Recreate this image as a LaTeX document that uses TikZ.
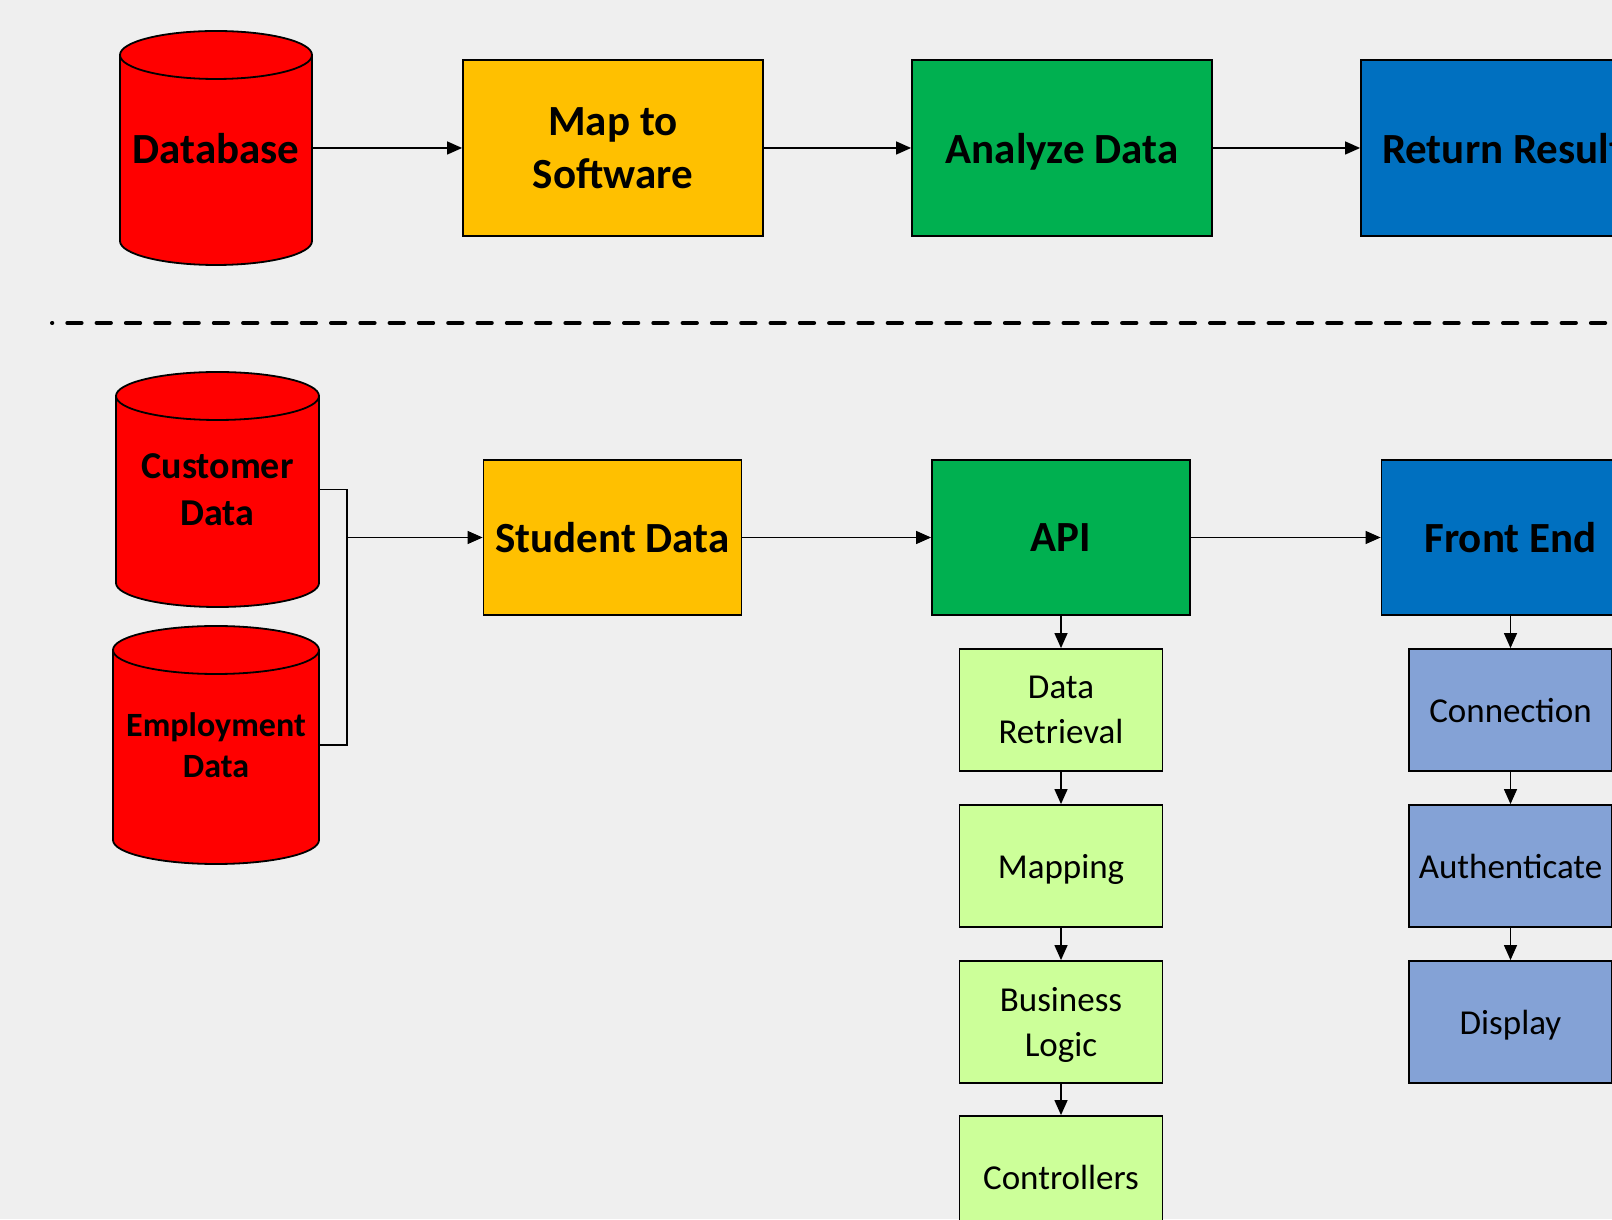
\documentclass[tikz,border=0pt]{standalone}
\usepackage{fontspec}
\setmainfont{Carlito}
\usepackage{tikz}
\usetikzlibrary{arrows.meta,backgrounds}
\definecolor{bg}{HTML}{EFEFEF}
\definecolor{dbred}{HTML}{FF0000}
\definecolor{gold}{HTML}{FFC000}
\definecolor{green}{HTML}{00B050}
\definecolor{blue}{HTML}{0070C0}
\definecolor{lgreen}{HTML}{CCFF99}
\definecolor{lblue}{HTML}{84A2D6}
\tikzset{
  boxbase/.style={rectangle, draw=black, line width=1.8pt, inner sep=0pt, align=center, text=black, text depth=0pt},
  procbox/.style={boxbase, minimum width=300pt, minimum height=176pt, font=\bfseries\fontsize{43}{53}\selectfont},
  stagebox/.style={boxbase, minimum width=258pt, minimum height=155pt, font=\bfseries\fontsize{43}{53}\selectfont},
  stepbox/.style={boxbase, minimum width=203pt, minimum height=122pt, font=\fontsize{35}{45}\selectfont},
  dbcyl/.style={rectangle, inner sep=0pt, outer sep=0pt, align=center, text=black, text depth=0pt, font=\bfseries\fontsize{43}{53}\selectfont},
  cylbody/.style={fill=dbred, draw=black, line width=1.8pt},
  link/.style={line width=1.3pt, draw=black},
  arr/.style={link, -{Triangle[length=15pt, width=13pt]}},
  divider/.style={line width=4pt, line cap=round, dash pattern=on 14.3pt off 15pt, dash phase=14pt}
}

\begin{document}
\begin{tikzpicture}[x=1pt, y=1pt]
  \useasboundingbox (0,0) rectangle (1612,1219);
  \clip (0,0) rectangle (1612,1219);
  \begin{pgfonlayer}{background}
    \fill[bg] (0,0) rectangle (1612,1219);
  \end{pgfonlayer}

  % Top row
  \node[dbcyl, minimum width=192pt, minimum height=234pt] (db) at (216,1071) {Database};
  \node[procbox, fill=gold] (map) at (613,1071) {Map to\\Software};
  \node[procbox, fill=green] (ana) at (1062,1071) {Analyze Data};
  \node[procbox, fill=blue, minimum width=284pt] (ret) at (1503,1071) {Return Result};
  \draw[arr] (db) -- (map);
  \draw[arr] (map) -- (ana);
  \draw[arr] (ana) -- (ret);

  \draw[divider] (52,896) -- (1640,896);

  % Bottom row
  \node[dbcyl, minimum width=203pt, minimum height=235pt, font=\bfseries\fontsize{38}{47}\selectfont] (cust) at (217.5,729.5) {Customer\\Data};
  \node[dbcyl, minimum width=206pt, minimum height=238pt, font=\bfseries\fontsize{34}{41}\selectfont] (emp) at (216,474) {Employment\\Data};
  \coordinate (join) at (347,681.5);
  \node[stagebox, fill=gold] (stud) at (612.5,681.5) {Student Data};
  \node[stagebox, fill=green] (api) at (1061,681.5) {API};
  \node[stagebox, fill=blue] (front) at (1510.5,681.5) {Front End};
  \draw[link] (cust.east) -| (join);
  \draw[link] (emp.east) -| (join);
  \draw[arr] (join) -- (stud);
  \draw[arr] (stud) -- (api);
  \draw[arr] (api) -- (front);

  % API steps
  \node[stepbox, fill=lgreen] (dr) at (1061,509) {Data\\Retrieval};
  \node[stepbox, fill=lgreen] (mapg) at (1061,353) {Mapping};
  \node[stepbox, fill=lgreen] (logic) at (1061,197) {Business\\Logic};
  \node[stepbox, fill=lgreen] (ctrl) at (1061,42) {Controllers};
  \draw[arr] (api) -- (dr);
  \draw[arr] (dr) -- (mapg);
  \draw[arr] (mapg) -- (logic);
  \draw[arr] (logic) -- (ctrl);

  % Front end steps
  \node[stepbox, fill=lblue] (conn) at (1510.5,509) {Connection};
  \node[stepbox, fill=lblue] (auth) at (1510.5,353) {Authenticate};
  \node[stepbox, fill=lblue] (disp) at (1510.5,197) {Display};
  \draw[arr] (front) -- (conn);
  \draw[arr] (conn) -- (auth);
  \draw[arr] (auth) -- (disp);

  % Cylinders behind the labels
  \begin{pgfonlayer}{background}
    \foreach \c/\rx in {db/96, cust/101.5, emp/103} {
      \draw[cylbody] ([yshift=-24pt]\c.north west) -- ([yshift=24pt]\c.south west)
        arc[start angle=180, end angle=360, x radius=\rx, y radius=24]
        -- ([yshift=-24pt]\c.north east)
        arc[start angle=0, end angle=180, x radius=\rx, y radius=24] -- cycle;
      \draw[cylbody, fill=none] ([yshift=-24pt]\c.north west)
        arc[start angle=180, end angle=360, x radius=\rx, y radius=24];
    }
  \end{pgfonlayer}
\end{tikzpicture}
\end{document}
